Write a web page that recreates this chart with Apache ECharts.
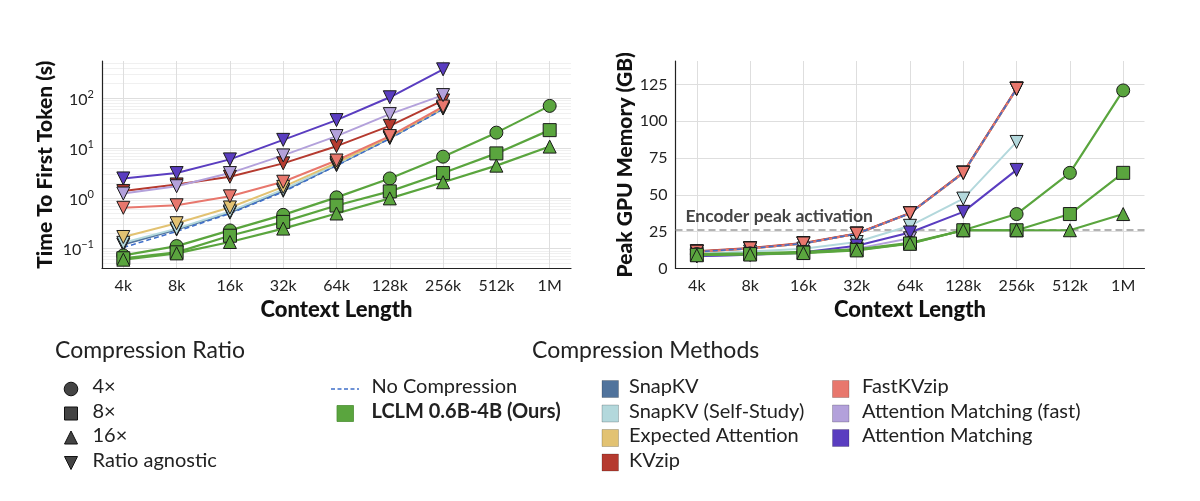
<!DOCTYPE html>
<html>
<head>
<meta charset="utf-8">
<script src="https://cdn.jsdelivr.net/npm/echarts@6/dist/echarts.min.js"></script>
<style>
html,body{margin:0;padding:0;background:#fff;}
#chart{width:1200px;height:501px;}
</style>
</head>
<body>
<div id="chart"></div>
<script>
// ---------------- DATA ----------------
const categories = ['4k','8k','16k','32k','64k','128k','256k','512k','1M'];

// Time To First Token (s)
const ttftSnapKV     = [0.12, 0.24, 0.52, 1.42, 4.6, 16, 62];
const ttftSnapKVSelf = [0.13, 0.25, 0.55, 1.5, 4.8, 16.5, 63];
const ttftExpected   = [0.17, 0.32, 0.66, 1.7, 5.1, 16.5, 64];
const ttftNoComp     = [0.105, 0.22, 0.5, 1.35, 4.5, 15.5, 60];
const ttftKVzip      = [1.4, 1.9, 2.7, 5.0, 11, 28, 90];
const ttftFastKVzip  = [0.65, 0.73, 1.1, 2.15, 5.7, 17.5, 68];
const ttftAMFast     = [1.25, 1.75, 3.2, 7.2, 17.5, 48, 115];
const ttftAM         = [2.5, 3.2, 6.0, 14.7, 36.5, 104, 375];
const ttftLCLM4      = [0.073, 0.112, 0.23, 0.47, 1.05, 2.5, 6.8, 20.5, 70];
const ttftLCLM8      = [0.064, 0.084, 0.18, 0.34, 0.72, 1.38, 3.2, 7.9, 23];
const ttftLCLM16     = [0.06, 0.08, 0.135, 0.25, 0.5, 1.0, 2.1, 4.5, 10.8];

// Peak GPU Memory (GB)
const memSnapKV     = [11.4, 13.6, 17, 23.6, 37.5, 65, 122];
const memSnapKVSelf = [10, 11.5, 13.5, 18, 29, 47.5, 86];
const memExpected   = [11.4, 13.6, 17, 23.6, 37.5, 65, 122];
const memNoComp     = [11.4, 13.6, 17, 23.6, 37.5, 65, 122];
const memKVzip      = [11.8, 13.9, 17.3, 23.8, 37.7, 65.3, 122.5];
const memFastKVzip  = [11.4, 13.6, 17, 23.6, 37.5, 65, 122];
const memAMFast     = [8.3, 9.3, 10.3, 13.5, 20.5];
const memAM         = [8.3, 9.3, 11, 15.5, 24.5, 38.5, 67];
const memLCLM4      = [9.8, 10.3, 11.3, 13, 17.5, 26, 37, 65, 121];
const memLCLM8      = [9.3, 9.8, 10.8, 12.6, 17, 26, 26, 37, 65];
const memLCLM16     = [9.0, 9.5, 10.5, 12.3, 16.8, 26, 26, 26, 37];
const encoderPeak   = 26;

// axis ticks
const ttftMajorTicks = [0.1, 1, 10, 100];
const ttftMinorTicks = [0.05,0.06,0.07,0.08,0.09,0.2,0.3,0.4,0.5,0.6,0.7,0.8,0.9,2,3,4,5,6,7,8,9,20,30,40,50,60,70,80,90,200,300,400,500];
const memTicks = [25, 50, 75, 100, 125];

// ---------------- STYLE ----------------
const FONT = 'Lato';
const C = {
  snapkv: '#50739c', snapkvSelf: '#b3d8dc', expected: '#e2c272', kvzip: '#b53a2f',
  fastkvzip: '#e8776d', amFast: '#b3a1db', am: '#5a3dc0', lclm: '#5aa53e', nocomp: '#3f6fc9'
};

function mk(name, values, color, symbol, rot, gi, extra) {
  const s = {
    name: name, type: 'line', xAxisIndex: gi, yAxisIndex: gi,
    data: values.map((v, i) => [i, v]),
    symbol: symbol, symbolSize: symbol === 'none' ? 0 : 13, symbolRotate: rot,
    itemStyle: { color: color, borderColor: '#1a1a1a', borderWidth: 1 },
    lineStyle: { color: color, width: 2 },
    emphasis: { disabled: true }, animation: false, z: 3
  };
  return Object.assign(s, extra || {});
}
function methodSeries(gi, d) {
  return [
    mk('SnapKV', d.snapkv, C.snapkv, 'triangle', 180, gi),
    mk('SnapKV (Self-Study)', d.snapkvSelf, C.snapkvSelf, 'triangle', 180, gi),
    mk('Expected Attention', d.expected, C.expected, 'triangle', 180, gi),
    mk('KVzip', d.kvzip, C.kvzip, 'triangle', 180, gi),
    mk('FastKVzip', d.fastkvzip, C.fastkvzip, 'triangle', 180, gi),
    mk('No Compression', d.nocomp, C.nocomp, 'none', 0, gi, { lineStyle: { color: C.nocomp, width: 1.6, type: [5, 3] }, showSymbol: false }),
    mk('Attention Matching (fast)', d.amFast, C.amFast, 'triangle', 180, gi),
    mk('Attention Matching', d.am, C.am, 'triangle', 180, gi),
    mk('LCLM 4x', d.l4, C.lclm, 'circle', 0, gi, { lineStyle: { color: C.lclm, width: 2.2 } }),
    mk('LCLM 8x', d.l8, C.lclm, 'rect', 0, gi, { lineStyle: { color: C.lclm, width: 2.2 } }),
    mk('LCLM 16x', d.l16, C.lclm, 'triangle', 0, gi, { lineStyle: { color: C.lclm, width: 2.2 } })
  ];
}

function gridSeries(gi, hLines, minorLines) {
  const vert = categories.map((c, i) => ({ xAxis: i, lineStyle: { color: '#dedede', width: 1, type: 'solid' } }));
  const hor = hLines.map(v => ({ yAxis: v, lineStyle: { color: '#dedede', width: 1, type: 'solid' } }));
  const minor = (minorLines || []).map(v => ({ yAxis: v, lineStyle: { color: '#ececec', width: 0.8, type: 'solid' } }));
  return {
    type: 'line', xAxisIndex: gi, yAxisIndex: gi, data: [], silent: true, z: 0, animation: false,
    markLine: { silent: true, z: 0, zlevel: 0, symbol: ['none', 'none'], label: { show: false }, animation: false,
      emphasis: { disabled: true },
      data: minor.concat(hor).concat(vert) }
  };
}

function xAxis(gi) {
  return {
    type: 'value', gridIndex: gi, min: -0.4, max: 8.4, interval: 0.2,
    axisLine: { show: true, onZero: false, lineStyle: { color: '#222', width: 1.2 } },
    axisTick: { show: false }, splitLine: { show: false },
    axisLabel: {
      fontFamily: FONT, fontSize: 16, color: '#222', margin: 9,
      formatter: v => { const r = Math.round(v); return (Math.abs(v - r) < 1e-6 && r >= 0 && r < categories.length) ? categories[r] : ''; }
    },
    name: 'Context Length', nameLocation: 'middle', nameGap: 30,
    nameTextStyle: { fontFamily: FONT, fontSize: 22, fontWeight: 900, color: '#111' }
  };
}

const leftData = { snapkv: ttftSnapKV, snapkvSelf: ttftSnapKVSelf, expected: ttftExpected, kvzip: ttftKVzip,
  fastkvzip: ttftFastKVzip, nocomp: ttftNoComp, amFast: ttftAMFast, am: ttftAM, l4: ttftLCLM4, l8: ttftLCLM8, l16: ttftLCLM16 };
const rightData = { snapkv: memSnapKV, snapkvSelf: memSnapKVSelf, expected: memExpected, kvzip: memKVzip,
  fastkvzip: memFastKVzip, nocomp: memNoComp, amFast: memAMFast, am: memAM, l4: memLCLM4, l8: memLCLM8, l16: memLCLM16 };

const encoderSeries = {
  type: 'line', xAxisIndex: 1, yAxisIndex: 1, data: [], silent: true, z: 1, animation: false,
  markLine: {
    silent: true, z: 1, symbol: ['none', 'none'], animation: false, emphasis: { disabled: true },
    lineStyle: { color: '#9a9a9a', width: 1.6, type: [7, 4] },
    label: { show: true, position: 'insideStartTop', formatter: 'Encoder peak activation', distance: [10, 5],
      fontFamily: FONT, fontSize: 17.5, fontWeight: 'bold', color: '#444' },
    data: [{ yAxis: encoderPeak }]
  }
};

// ---------------- LEGEND (graphic) ----------------
const LG = [];
function txt(x, y, t, size, weight) {
  LG.push({ type: 'text', left: x, top: y - size * 0.62, style: { text: t, fontFamily: FONT, fontSize: size, fontWeight: weight || 'normal', fill: '#222' } });
}
txt(55, 353, 'Compression Ratio', 23);
txt(532, 353, 'Compression Methods', 23);
const rowY = [389, 413.5, 438, 462.5];
// ratio markers
LG.push({ type: 'circle', shape: { cx: 71, cy: rowY[0], r: 6.8 }, style: { fill: '#444', stroke: '#111', lineWidth: 1 } });
LG.push({ type: 'rect', shape: { x: 64.5, y: rowY[1] - 6.5, width: 13, height: 13 }, style: { fill: '#444', stroke: '#111', lineWidth: 1 } });
LG.push({ type: 'polygon', shape: { points: [[71, rowY[2] - 7], [64.5, rowY[2] + 6], [77.5, rowY[2] + 6]] }, style: { fill: '#444', stroke: '#111', lineWidth: 1 } });
LG.push({ type: 'polygon', shape: { points: [[71, rowY[3] + 7], [64.5, rowY[3] - 6], [77.5, rowY[3] - 6]] }, style: { fill: '#444', stroke: '#111', lineWidth: 1 } });
const ratioLabels = ['4×', '8×', '16×', 'Ratio agnostic'];
ratioLabels.forEach((t, i) => txt(92.5, rowY[i], t, 20));
// methods col 1
LG.push({ type: 'line', shape: { x1: 331, y1: rowY[0], x2: 359, y2: rowY[0] }, style: { stroke: C.nocomp, lineWidth: 1.5, lineDash: [4, 2.5] } });
txt(371.5, rowY[0], 'No Compression', 20);
LG.push({ type: 'rect', shape: { x: 337, y: rowY[1] - 8, width: 16.5, height: 16 }, style: { fill: C.lclm, stroke: '#4d8f35', lineWidth: 0.8 } });
txt(371.5, rowY[1], 'LCLM 0.6B-4B (Ours)', 20, 'bold');
// methods col 2 & 3
const col2 = [['SnapKV', C.snapkv], ['SnapKV (Self-Study)', C.snapkvSelf], ['Expected Attention', C.expected], ['KVzip', C.kvzip]];
const col3 = [['FastKVzip', C.fastkvzip], ['Attention Matching (fast)', C.amFast], ['Attention Matching', C.am]];
col2.forEach((it, i) => {
  LG.push({ type: 'rect', shape: { x: 602, y: rowY[i] - 8.5, width: 16.5, height: 17 }, style: { fill: it[1], stroke: 'rgba(0,0,0,0.25)', lineWidth: 0.8 } });
  txt(629, rowY[i], it[0], 20);
});
col3.forEach((it, i) => {
  LG.push({ type: 'rect', shape: { x: 832.5, y: rowY[i] - 8.5, width: 16.5, height: 17 }, style: { fill: it[1], stroke: 'rgba(0,0,0,0.25)', lineWidth: 0.8 } });
  txt(862, rowY[i], it[0], 20);
});

// ---------------- OPTION ----------------
const option = {
  animation: false,
  backgroundColor: '#ffffff',
  textStyle: { fontFamily: FONT },
  grid: [
    { left: 102, top: 61, width: 469, height: 207.5, containLabel: false },
    { left: 675.5, top: 61, width: 469, height: 207.5, containLabel: false }
  ],
  xAxis: [xAxis(0), xAxis(1)],
  yAxis: [
    {
      type: 'log', logBase: 10, gridIndex: 0, min: 0.04, max: 550,
      axisLine: { show: true, onZero: false, lineStyle: { color: '#222', width: 1.2 } },
      axisTick: { show: false }, splitLine: { show: false }, minorSplitLine: { show: false },
      axisLabel: {
        margin: 8,
        formatter: v => {
          const e = Math.log10(v); const r = Math.round(e);
          if (Math.abs(e - r) > 1e-4) return '';
          return '{b|10}{s|' + (r < 0 ? '\u2212' + (-r) : r) + '}';
        },
        rich: {
          b: { fontFamily: FONT, fontSize: 16, color: '#222', lineHeight: 19, verticalAlign: 'bottom' },
          s: { fontFamily: FONT, fontSize: 11, color: '#222', verticalAlign: 'top' }
        }
      },
      name: 'Time To First Token (s)', nameLocation: 'middle', nameGap: 46,
      nameTextStyle: { fontFamily: FONT, fontSize: 21, fontWeight: 900, color: '#111' }
    },
    {
      type: 'value', gridIndex: 1, min: 0, max: 141, interval: 25,
      axisLine: { show: true, onZero: false, lineStyle: { color: '#222', width: 1.2 } },
      axisTick: { show: false }, splitLine: { show: false },
      axisLabel: { fontFamily: FONT, fontSize: 16, color: '#222', margin: 8, showMaxLabel: false,
        formatter: v => (Math.abs(v % 25) < 1e-6 ? String(v) : '') },
      name: 'Peak GPU Memory (GB)', nameLocation: 'middle', nameGap: 40,
      nameTextStyle: { fontFamily: FONT, fontSize: 21, fontWeight: 900, color: '#111' }
    }
  ],
  series: [
    gridSeries(0, ttftMajorTicks, ttftMinorTicks),
    gridSeries(1, memTicks, []),
    encoderSeries
  ].concat(methodSeries(0, leftData)).concat(methodSeries(1, rightData)),
  graphic: LG
};

const chart = echarts.init(document.getElementById('chart'), null, { renderer: 'canvas' });
chart.setOption(option);
</script>
</body>
</html>
